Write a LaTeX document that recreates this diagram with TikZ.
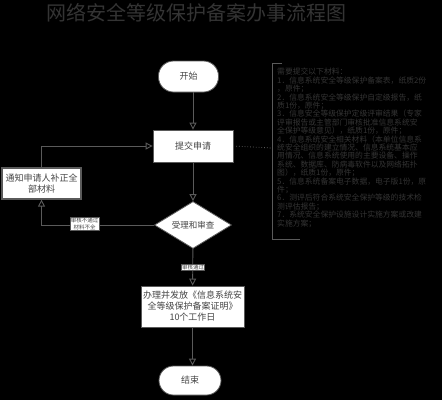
\documentclass[tikz,border=0pt]{standalone}
\usepackage{fontspec}
\setmainfont{Noto Sans CJK SC}
\usetikzlibrary{arrows.meta,shapes.geometric}
\definecolor{ln}{HTML}{5A5A5A}
\definecolor{tx}{HTML}{444444}
\definecolor{dk}{HTML}{343434}
\tikzset{
  base/.style={fill=white,draw=ln,line width=0.8,inner sep=0pt,text=tx,align=center,font=\fontsize{9}{11}\selectfont},
  term/.style={base,rounded corners=15pt},
  boxnode/.style={base},
  decision/.style={base,diamond,aspect=1.64},
  lbl/.style={fill=white,draw=ln,line width=0.5,inner sep=0.6pt,text=tx,align=center,font=\fontsize{5.5}{6.5}\selectfont},
  arr/.style={draw=ln,line width=0.9,-{Triangle[open,length=7pt,width=7pt]}},
}
\begin{document}
\begin{tikzpicture}[x=1pt,y=-1pt]
\fill[black] (0,0) rectangle (442,400);
\useasboundingbox (0,0) rectangle (442,400);

\node[text=dk,font=\fontsize{20}{20}\selectfont] (title) at (196.5,13) {网络安全等级保护备案办事流程图};

\node[term,minimum width=60,minimum height=31] (start) at (188.5,76.5) {开始};
\node[boxnode,minimum width=80,minimum height=32] (submit) at (193,146) {提交申请};
\node[decision,minimum width=77,minimum height=47,font=\fontsize{8.5}{10}\selectfont] (check) at (193,225) {受理和审查};
\node[boxnode,minimum width=103,minimum height=41] (issue) at (192.5,306.5) {办理并发放《信息系统安\\全等级保护备案证明》\\10个工作日};
\node[term,minimum width=62,minimum height=29,rounded corners=14.5pt] (end) at (190,380.5) {结束};
\node[boxnode,minimum width=79,minimum height=31,line width=1.2] (notify) at (41.5,183.5) {通知申请人补正全\\部材料};

\draw[arr] (start.south -| submit.north) -- (submit.north);
\draw[arr] (submit) -- (check);
\draw[arr] (check) -- (issue);
\draw[arr] (issue) -- (end.north -| issue.south);
\draw[arr] (check.west) -| (notify.south);
\draw[arr] (notify.north) |- (submit.west);

\node[lbl] (pass) at (193,267) {审核通过};
\node[lbl] (fail) at (84.5,224) {审核不通过\\材料不全};

\coordinate (brk) at (272,148);
\draw[ln,line width=0.8,dotted] (submit.east) -- (brk);
\draw[ln,line width=0.8] (282,63) -- (272,63) -- (272,239) -- (300,239);

\node[anchor=north west,inner sep=0pt,text=dk,align=left,font=\fontsize{7.8}{8.4}\selectfont] (mats) at (277,68) {需要提交以下材料：\\
1．信息系统安全等级保护备案表，纸质2份\\
，原件；\\
2．信息系统安全等级保护自定级报告，纸\\
质1份，原件；\\
3．信息安全等级保护定级评审结果（专家\\
评审报告或主管部门审核批准信息系统安\\
全保护等级意见），纸质1份，原件；\\
4．信息系统安全相关材料（本单位信息系\\
统安全组织的建立情况、信息系统基本应\\
用情况、信息系统使用的主要设备、操作\\
系统、数据库、防病毒软件以及网络拓扑\\
图），纸质1份，原件；\\
5．信息系统备案电子数据，电子版1份，原\\
件；\\
6．测评后符合系统安全保护等级的技术检\\
测评估报告；\\
7．系统安全保护设施设计实施方案或改建\\
实施方案；};
\end{tikzpicture}
\end{document}
